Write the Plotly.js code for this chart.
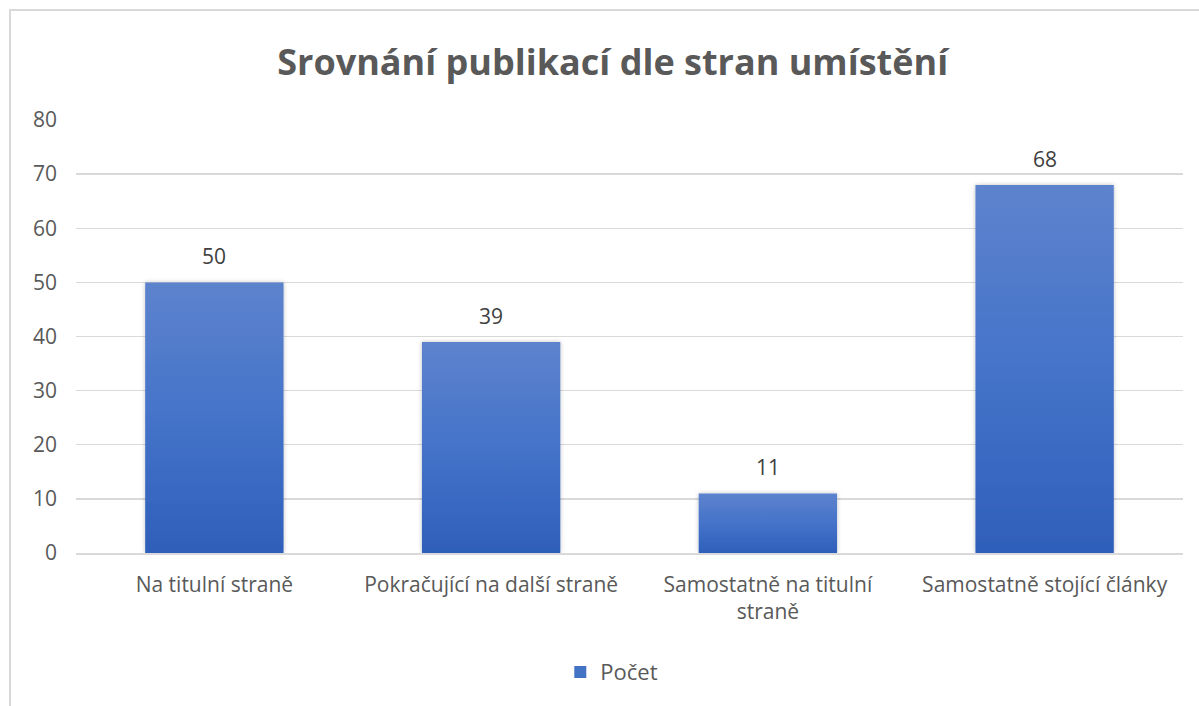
<!DOCTYPE html>
<html>
<head>
<meta charset="utf-8">
<script src="https://cdn.plot.ly/plotly-3.0.1.min.js"></script>
<style>
html,body{margin:0;padding:0;background:#fff;overflow:hidden;}
#wrap{position:relative;width:1199px;height:706px;}
#chart{position:absolute;left:0;top:0;width:1199px;height:706px;}
#frame{position:absolute;left:9px;top:9px;width:1300px;height:800px;border:2px solid #d9d9d9;pointer-events:none;}
</style>
</head>
<body>
<div id="wrap"><div id="chart"></div><div id="frame"></div></div>
<script>
const categories = ["Na titulní straně", "Pokračující na další straně", "Samostatně na titulní<br>straně", "Samostatně stojící články"];
const values = [50, 39, 11, 68];
const seriesName = "Počet";
const yTicks = [0, 10, 20, 30, 40, 50, 60, 70, 80];

const FONT = "'Open Sans', 'Noto Sans', sans-serif";
const trace = {
  type: "bar",
  x: categories,
  y: values,
  name: seriesName,
  marker: {color: "#4472c4"},
  showlegend: true,
  hoverinfo: "x+y"
};
const annotations = categories.map(function(c, i){
  return {x: c, y: values[i], xref: "x", yref: "y", text: String(values[i]), showarrow: false,
          yshift: 26, yanchor: "middle", font: {size: 21, color: "#404040", family: FONT}};
});
const layout = {
  width: 1199, height: 706,
  margin: {l: 76, r: 16, t: 120, b: 153},
  paper_bgcolor: "#ffffff", plot_bgcolor: "#ffffff",
  font: {family: FONT, color: "#595959", size: 21},
  title: {text: "<b>Srovnání publikací dle stran umístění</b>", x: 0.511, xanchor: "center", y: 0.912, yanchor: "middle",
          font: {size: 36, color: "#595959", family: FONT}},
  bargap: 0.5,
  annotations: annotations,
  xaxis: {type: "category", showgrid: false, showline: true, linecolor: "#d9d9d9", linewidth: 1.5,
          ticks: "", ticklabelstandoff: 12, tickfont: {size: 21, color: "#595959"}, automargin: false, fixedrange: true},
  yaxis: {range: [0, 80], tickvals: yTicks, showgrid: true, gridcolor: "#d9d9d9", gridwidth: 1.3,
          zeroline: false, showline: false, ticks: "", ticklabelstandoff: 18,
          tickfont: {size: 21, color: "#595959"}, automargin: false, fixedrange: true},
  showlegend: true,
  legend: {orientation: "h", x: 0.484, xanchor: "center", y: -0.275, yanchor: "middle",
           font: {size: 22, color: "#595959"}, itemwidth: 30}
};
Plotly.newPlot("chart", [trace], layout, {displayModeBar: false, staticPlot: true}).then(function(gd){
  const svg = gd.querySelector("svg.main-svg");
  const ns = "http://www.w3.org/2000/svg";
  let defs = svg.querySelector("defs");
  if (!defs) { defs = document.createElementNS(ns, "defs"); svg.insertBefore(defs, svg.firstChild); }
  const lg = document.createElementNS(ns, "linearGradient");
  lg.setAttribute("id", "barGrad"); lg.setAttribute("x1", "0"); lg.setAttribute("y1", "0");
  lg.setAttribute("x2", "0"); lg.setAttribute("y2", "1");
  [["0", "#5d83cd"], ["0.5", "#4573c9"], ["1", "#2e5fba"]].forEach(function(s){
    const st = document.createElementNS(ns, "stop");
    st.setAttribute("offset", s[0]); st.setAttribute("stop-color", s[1]);
    lg.appendChild(st);
  });
  defs.appendChild(lg);
  const f = document.createElementNS(ns, "filter");
  f.setAttribute("id", "barShadow"); f.setAttribute("x", "-10%"); f.setAttribute("y", "-5%");
  f.setAttribute("width", "120%"); f.setAttribute("height", "110%");
  f.innerHTML = '<feDropShadow dx="0" dy="0" stdDeviation="2" flood-color="#000" flood-opacity="0.25"/>';
  defs.appendChild(f);
  gd.querySelectorAll(".barlayer .point path").forEach(function(p){
    p.style.fill = "url(#barGrad)";
    p.style.filter = "url(#barShadow)";
  });
});
</script>
</body>
</html>
